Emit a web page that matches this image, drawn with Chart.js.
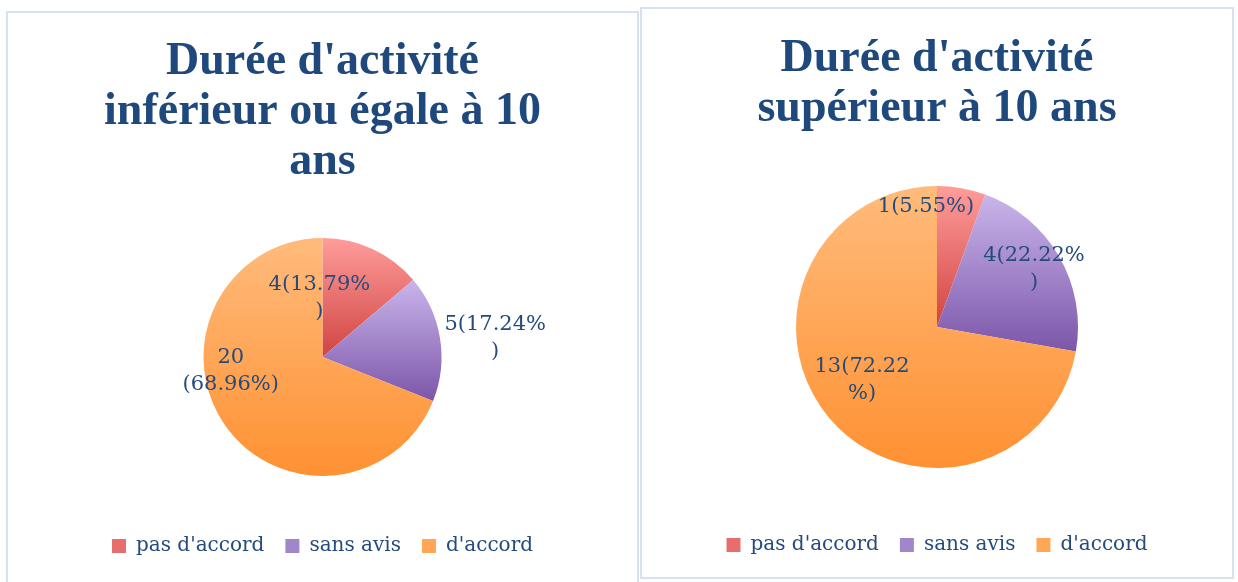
<!DOCTYPE html>
<html>
<head>
<meta charset="utf-8">
<script src="https://cdn.jsdelivr.net/npm/chart.js@4.4.0/dist/chart.umd.min.js"></script>
<style>
  body { margin: 0; background: #fff; width: 1238px; height: 582px; overflow: hidden; position: relative; }
  .panel { position: absolute; border: 2px solid #d6e2f1; box-sizing: border-box; background: #fff; }
  .panel canvas { position: absolute; left: 0; top: 0; }
</style>
</head>
<body>
<div class="panel" style="left:6px;top:11px;width:633px;height:580px"><canvas id="chartLeft" width="629" height="576"></canvas></div>
<div class="panel" style="left:640px;top:7px;width:594px;height:572px"><canvas id="chartRight" width="590" height="568"></canvas></div>

<script>
// data
var categories = ["pas d'accord", "sans avis", "d'accord"];
var valuesLeft = [4, 5, 20];
var percentLeft = ["13.79", "17.24", "68.96"];
var valuesRight = [1, 4, 13];
var percentRight = ["5.55", "22.22", "72.22"];
var titleLeft = ["Durée d'activité", "inférieur ou égale à 10", "ans"];
var titleRight = ["Durée d'activité", "supérieur à 10 ans"];

// light (top) -> dark (bottom) colours of each slice
var sliceColors = [
  ['#ff9d9b', '#d04442'],
  ['#c9b5eb', '#7c56a9'],
  ['#ffbb7c', '#ff9132']
];
var legendColors = ['#e66f6d', '#a286cc', '#ffa657'];
var textColor = '#244b7d';

// vertical gradient over the bounding box of each slice
function sliceGradient(context, values, radius) {
  var chart = context.chart;
  var area = chart.chartArea;
  var i = context.dataIndex;
  if (!area) return sliceColors[i][1];
  var cy = (area.top + area.bottom) / 2;
  var total = values.reduce((a, b) => a + b, 0);
  var start = -Math.PI / 2;
  for (var k = 0; k < i; k++) start += values[k] / total * 2 * Math.PI;
  var end = start + values[i] / total * 2 * Math.PI;
  var ys = [cy, cy + radius * Math.sin(start), cy + radius * Math.sin(end)];
  [-Math.PI / 2, Math.PI / 2, 3 * Math.PI / 2].forEach(function(a) {
    if (a >= start && a <= end) ys.push(cy + radius * Math.sin(a));
  });
  var g = chart.ctx.createLinearGradient(0, Math.min.apply(null, ys), 0, Math.max.apply(null, ys));
  g.addColorStop(0, sliceColors[i][0]);
  g.addColorStop(1, sliceColors[i][1]);
  return g;
}

function buildLabels(values, percents, breaks) {
  return values.map(function(v, i) {
    var t = v + '(' + percents[i] + '%)';
    return breaks[i] ? [t.slice(0, breaks[i]), t.slice(breaks[i])] : [t];
  });
}

// draws the value labels at a polar spot relative to each slice
var sliceLabels = {
  id: 'sliceLabels',
  afterDatasetsDraw: function(chart, args, opts) {
    var ctx = chart.ctx;
    var meta = chart.getDatasetMeta(0);
    ctx.save();
    ctx.font = '21px "DejaVu Serif"';
    ctx.fillStyle = textColor;
    ctx.textAlign = 'center';
    ctx.textBaseline = 'middle';
    meta.data.forEach(function(arc, i) {
      var p = opts.place[i];
      var a = p.angle * Math.PI / 180;
      var x = arc.x + Math.cos(a) * p.dist * arc.outerRadius;
      var y = arc.y + Math.sin(a) * p.dist * arc.outerRadius;
      var lines = opts.lines[i];
      lines.forEach(function(t, j) {
        ctx.fillText(t, x, y + (j - (lines.length - 1) / 2) * 27);
      });
    });
    ctx.restore();
  }
};

function makePie(canvasId, values, percents, title, opt) {
  new Chart(canvasId, {
    type: 'pie',
    data: {
      labels: categories,
      datasets: [{
        data: values,
        backgroundColor: function(context) { return sliceGradient(context, values, opt.radius); },
        borderWidth: 0,
        hoverOffset: 0,
        radius: opt.radius
      }]
    },
    options: {
      responsive: false,
      animation: false,
      layout: { padding: { bottom: opt.padBottom } },
      plugins: {
        title: {
          display: true,
          text: title,
          color: '#1f497d',
          font: { family: '"Liberation Serif"', size: 46, weight: 'bold', lineHeight: 1.087 },
          padding: { top: opt.titleTop, bottom: opt.titleBottom }
        },
        legend: {
          position: 'bottom',
          labels: {
            boxWidth: 14,
            boxHeight: 14,
            padding: 21,
            color: textColor,
            font: { family: '"DejaVu Serif"', size: 20 },
            generateLabels: function(chart) {
              return categories.map(function(c, i) {
                return { text: c, fillStyle: legendColors[i], strokeStyle: legendColors[i], lineWidth: 0, index: i, fontColor: textColor };
              });
            }
          }
        },
        tooltip: { enabled: false },
        sliceLabels: {
          place: opt.place,
          lines: buildLabels(values, percents, opt.breaks)
        }
      }
    },
    plugins: [sliceLabels]
  });
}

document.addEventListener('DOMContentLoaded', function() {
  makePie('chartLeft', valuesLeft, percentLeft, titleLeft, {
    radius: 119, titleTop: 24, titleBottom: 12, padBottom: 23,
    breaks: [8, 8, 2],
    place: [{ angle: -93, dist: 0.5 }, { angle: -6.3, dist: 1.46 }, { angle: 171.3, dist: 0.78 }]
  });
  makePie('chartRight', valuesRight, percentRight, titleRight, {
    radius: 141, titleTop: 25, titleBottom: 6, padBottom: 12,
    breaks: [0, 8, 8],
    place: [{ angle: -95.2, dist: 0.86 }, { angle: -30.7, dist: 0.8 }, { angle: 144.9, dist: 0.65 }]
  });
});
</script>
</body>
</html>
